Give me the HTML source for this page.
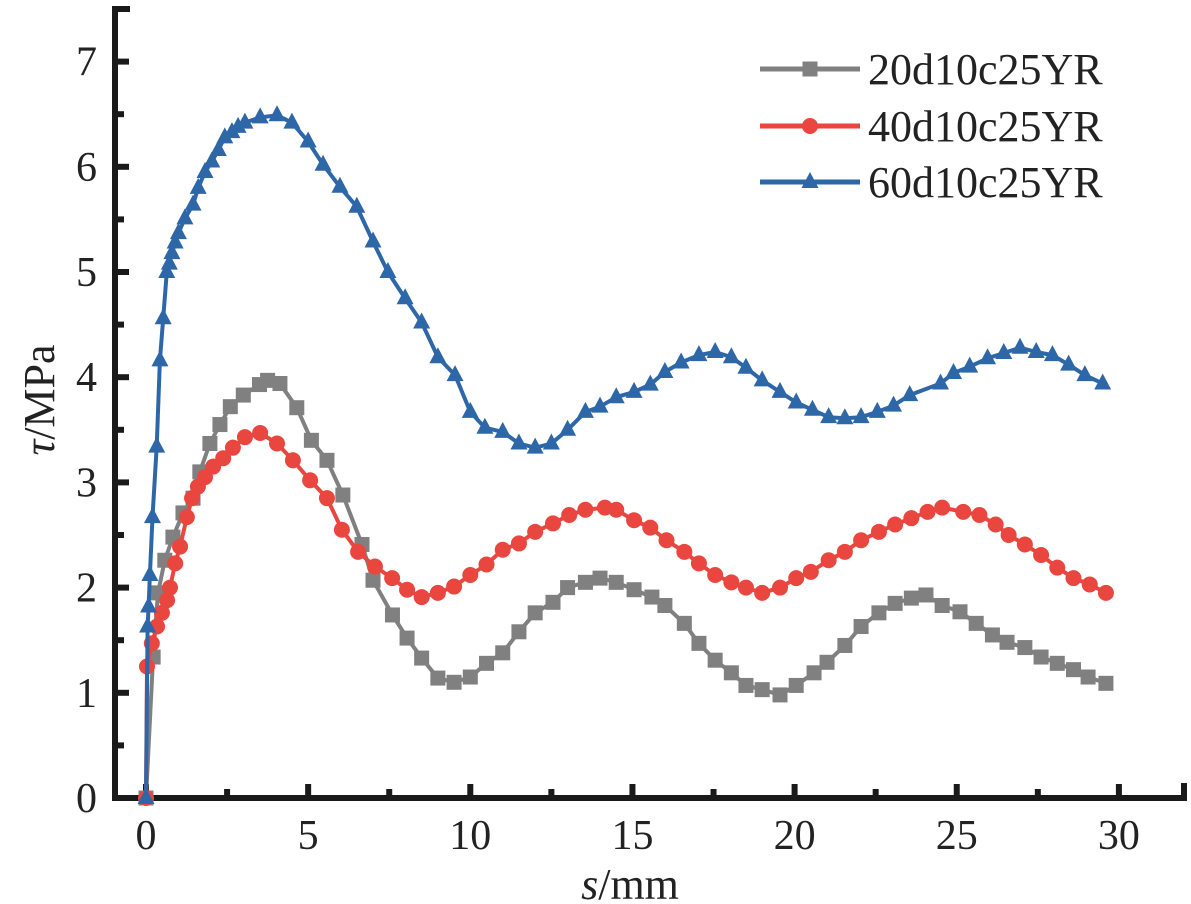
<!DOCTYPE html>
<html><head><meta charset="utf-8"><style>
html,body{margin:0;padding:0;background:#fff;}
svg{display:block;font-family:"Liberation Serif",serif;}
</style></head><body>
<svg id="chart" width="1191" height="904" viewBox="0 0 1191 904" xmlns="http://www.w3.org/2000/svg">
<g id="axes"></g>
<g id="series"></g>
<g id="legend"></g>
<text transform="translate(54,400) rotate(-90)" text-anchor="middle" font-size="44" fill="#222"><tspan font-style="italic">τ</tspan>/MPa</text>
<text x="630" y="899" text-anchor="middle" font-size="44" fill="#222"><tspan font-style="italic">s</tspan>/mm</text>
</svg>
<script>
const xTicks=[0,5,10,15,20,25,30];
const yTicks=[0,1,2,3,4,5,6,7];
const seriesNames=["20d10c25YR","40d10c25YR","60d10c25YR"];
const s20x=[0,0.22,0.37,0.58,0.83,1.14,1.45,1.66,1.97,2.28,2.6,3.0,3.5,3.75,4.13,4.65,5.1,5.58,6.07,6.66,7.0,7.6,8.05,8.5,9.0,9.5,10.0,10.5,11,11.5,12,12.55,13,13.55,14,14.5,15.05,15.6,16,16.6,17.05,17.55,18.05,18.5,19,19.55,20.05,20.6,21,21.55,22.05,22.6,23.1,23.6,24.05,24.55,25.1,25.6,26.1,26.55,27.1,27.6,28.1,28.6,29.05,29.6];
const s20y=[0,1.34,1.95,2.26,2.48,2.71,2.85,3.1,3.37,3.55,3.72,3.83,3.93,3.97,3.94,3.71,3.40,3.21,2.88,2.41,2.07,1.74,1.52,1.33,1.14,1.10,1.15,1.28,1.38,1.58,1.76,1.86,2.0,2.05,2.09,2.05,1.98,1.91,1.83,1.66,1.47,1.31,1.19,1.07,1.03,0.98,1.07,1.19,1.29,1.45,1.63,1.76,1.85,1.90,1.93,1.83,1.77,1.66,1.55,1.48,1.43,1.34,1.28,1.22,1.15,1.09];
const s40x=[0,0.03,0.18,0.34,0.49,0.65,0.74,0.9,1.05,1.26,1.42,1.6,1.82,2.07,2.38,2.68,3.05,3.52,4.04,4.53,5.06,5.58,6.04,6.54,7.06,7.59,8.05,8.5,9.0,9.5,10.0,10.5,11.0,11.5,12.0,12.55,13.05,13.55,14.15,14.5,15.05,15.55,16.05,16.6,17.05,17.55,18.05,18.5,19.0,19.55,20.05,20.5,21.05,21.55,22.05,22.6,23.1,23.6,24.1,24.55,25.2,25.7,26.2,26.6,27.1,27.6,28.1,28.6,29.1,29.6];
const s40y=[0,1.25,1.47,1.63,1.76,1.88,2.0,2.23,2.39,2.67,2.85,2.96,3.05,3.15,3.23,3.33,3.43,3.47,3.37,3.21,3.02,2.85,2.55,2.34,2.20,2.09,1.98,1.91,1.95,2.01,2.12,2.22,2.36,2.42,2.53,2.61,2.69,2.74,2.76,2.74,2.64,2.57,2.45,2.34,2.23,2.12,2.05,2.0,1.95,2.0,2.09,2.15,2.26,2.34,2.45,2.53,2.6,2.66,2.72,2.76,2.72,2.69,2.60,2.5,2.41,2.31,2.19,2.09,2.03,1.95];
const s60x=[0,0.05,0.08,0.12,0.2,0.33,0.43,0.53,0.64,0.72,0.8,0.9,1.0,1.2,1.45,1.61,1.82,2.03,2.23,2.43,2.65,2.84,3.05,3.52,4.04,4.5,5.0,5.46,5.98,6.5,7.0,7.46,7.99,8.5,9.0,9.53,10.0,10.45,11.0,11.5,12.0,12.5,13.0,13.55,14.0,14.5,15.05,15.55,16.0,16.5,17.05,17.55,18.05,18.5,19.0,19.55,20.05,20.55,21.05,21.55,22.05,22.55,23.05,23.55,24.5,24.9,25.4,25.95,26.45,26.95,27.45,27.95,28.45,28.95,29.5];
const s60y=[0,1.63,1.82,2.12,2.67,3.34,4.16,4.56,5.0,5.08,5.18,5.28,5.37,5.51,5.64,5.8,5.95,6.05,6.16,6.28,6.33,6.38,6.42,6.47,6.49,6.42,6.24,6.02,5.81,5.62,5.29,5.0,4.75,4.52,4.19,4.02,3.67,3.52,3.48,3.37,3.33,3.37,3.50,3.67,3.72,3.81,3.86,3.93,4.05,4.14,4.21,4.24,4.19,4.09,3.97,3.86,3.76,3.69,3.62,3.61,3.62,3.67,3.73,3.83,3.94,4.04,4.10,4.18,4.23,4.28,4.24,4.21,4.12,4.02,3.94];

const NS="http://www.w3.org/2000/svg";
const X0=146, XS=32.43, Y0=798, YS=105.2;
function sx(v){return X0+v*XS;}
function sy(v){return Y0-v*YS;}
function mk(tag,attrs,parent){const e=document.createElementNS(NS,tag);for(const k in attrs)e.setAttribute(k,attrs[k]);parent.appendChild(e);return e;}
const axes=document.getElementById('axes');
const ser=document.getElementById('series');
const leg=document.getElementById('legend');
const AX="#1a1a1a";
let yl=mk('line',{x1:115,y1:6,x2:115,y2:801,stroke:AX,'stroke-width':6},axes);


let yc=mk('line',{x1:112,y1:9,x2:130,y2:9,stroke:AX,'stroke-width':6},axes);


let xl=mk('line',{x1:112,y1:798,x2:1187,y2:798,stroke:AX,'stroke-width':6},axes);


let xc=mk('line',{x1:1184,y1:801,x2:1184,y2:783,stroke:AX,'stroke-width':6},axes);


xTicks.forEach(t=>{
  let l=mk('line',{x1:sx(t),y1:798,x2:sx(t),y2:784,stroke:AX,'stroke-width':6},axes);
  
  
  let m=mk('line',{x1:sx(t+2.5),y1:798,x2:sx(t+2.5),y2:789,stroke:AX,'stroke-width':6},axes);
  
  
  let tx=mk('text',{x:sx(t),y:849,'text-anchor':'middle','font-size':42,fill:'#222'},axes);
  tx.textContent=t;
  
  
});
yTicks.forEach(t=>{
  let l=mk('line',{x1:115,y1:sy(t),x2:129,y2:sy(t),stroke:AX,'stroke-width':6},axes);
  
  
  let m=mk('line',{x1:115,y1:sy(t+0.5),x2:124,y2:sy(t+0.5),stroke:AX,'stroke-width':6},axes);
  
  
  let tx=mk('text',{x:97,y:sy(t)+14,'text-anchor':'end','font-size':42,fill:'#222'},axes);
  tx.textContent=t;
  
  
});
const cols=["#808080","#e8463e","#2e67a8"];
function marker(type,x,y,c,parent){
  let e;
  if(type==0) e=mk('rect',{x:x-7.5,y:y-7.5,width:15,height:15,fill:c},parent);
  else if(type==1) e=mk('circle',{cx:x,cy:y,r:8,fill:c},parent);
  else e=mk('polygon',{points:`${x},${y-10} ${x-8.5},${y+6} ${x+8.5},${y+6}`,fill:c},parent);
  return e;
}
const data=[[s20x,s20y],[s40x,s40y],[s60x,s60y]];
data.forEach((d,i)=>{
  const g=mk('g',{},ser);
  
  
  const pts=d[0].map((v,j)=>sx(v).toFixed(1)+','+sy(d[1][j]).toFixed(1)).join(' ');
  let pl=mk('polyline',{points:pts,fill:'none',stroke:cols[i],'stroke-width':4,'stroke-linejoin':'round'},g);
  
  
  d[0].forEach((v,j)=>{
    let m=marker(i,sx(v),sy(d[1][j]),cols[i],g);
    
    
  });
});
const ly=[69,126,182];
seriesNames.forEach((n,i)=>{
  const g=mk('g',{},leg);
  
  
  mk('line',{x1:760,y1:ly[i],x2:860,y2:ly[i],stroke:cols[i],'stroke-width':5},g);
  marker(i,810,ly[i],cols[i],g);
  let t=mk('text',{x:868,y:ly[i]+15,'font-size':44,fill:'#222'},g);
  t.textContent=n;
  
  
});
</script>
</body></html>
